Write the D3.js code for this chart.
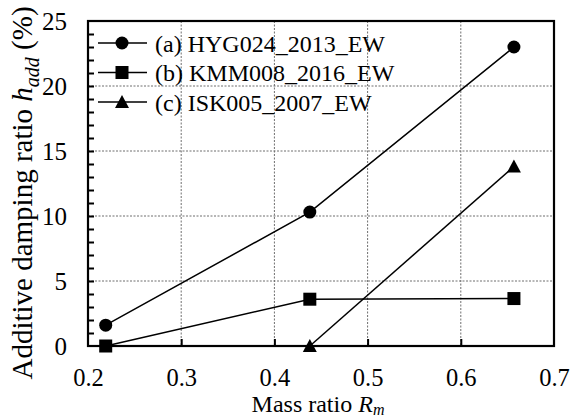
<!DOCTYPE html>
<html>
<head>
<meta charset="utf-8">
<script src="https://cdn.jsdelivr.net/npm/d3@7"></script>
<style>
  html, body { margin: 0; padding: 0; background: #fff; }
  svg { display: block; }
  svg text { font-family: 'Liberation Serif', 'Times New Roman', 'DejaVu Serif', serif; }
</style>
</head>
<body>
<svg id="chart" width="571" height="420"></svg>
<script>
// Mass ratio values used by each record
const massA = [0.219, 0.438, 0.657];
const massB = [0.219, 0.438, 0.657];
const massC = [0.438, 0.657];
// Additive damping ratio (%) for each record
const dampA = [1.6, 10.3, 23.0];
const dampB = [0.0, 3.6, 3.65];
const dampC = [0.0, 13.8];
const seriesNames = ["(a) HYG024_2013_EW", "(b) KMM008_2016_EW", "(c) ISK005_2007_EW"];
const seriesMarkers = ["circle", "square", "triangle"];
const xTicks = [0.2, 0.3, 0.4, 0.5, 0.6, 0.7];
const yTicks = [0, 5, 10, 15, 20, 25];

const serif = "'Liberation Serif', 'Times New Roman', 'DejaVu Serif', serif";
const svg = d3.select("#chart");
const plotLeft = 88, plotRight = 554, plotTop = 21, plotBottom = 346;

const x = d3.scaleLinear().domain([0.2, 0.7]).range([plotLeft, plotRight]);
const y = d3.scaleLinear().domain([0, 25]).range([plotBottom, plotTop]);

// dotted grid
const grid = svg.append("g").attr("stroke", "#6e6e6e").attr("stroke-width", 1)
  .attr("stroke-dasharray", "2,1.5");
grid.selectAll("line.vx").data(xTicks.slice(1, -1)).join("line")
  .attr("x1", d => x(d)).attr("x2", d => x(d))
  .attr("y1", plotTop).attr("y2", plotBottom);
grid.selectAll("line.hy").data(yTicks.slice(1, -1)).join("line")
  .attr("x1", plotLeft).attr("x2", plotRight)
  .attr("y1", d => y(d)).attr("y2", d => y(d));

// axes
const fmtX = d3.format(".1f");
const xAxis = d3.axisBottom(x).tickValues(xTicks).tickFormat(fmtX)
  .tickSizeInner(-7).tickSizeOuter(0).tickPadding(23);
const gx = svg.append("g").attr("transform", `translate(0,${plotBottom})`).call(xAxis);
gx.attr("font-family", null).attr("font-size", null);
gx.select(".domain").remove();
gx.selectAll(".tick line").attr("stroke", "#000").attr("stroke-width", 2)
  .filter(d => d === 0.2 || d === 0.7).remove();
gx.selectAll("text").style("font-size", "24.5px").style("font-family", serif).attr("fill", "#000");

const yMinor = d3.range(0, 26, 1);
const yAxis = d3.axisLeft(y).tickValues(yMinor)
  .tickFormat(d => (d % 5 === 0 ? d : ""))
  .tickSizeInner(-6).tickSizeOuter(0).tickPadding(21);
const gy = svg.append("g").attr("transform", `translate(${plotLeft},0)`).call(yAxis);
gy.attr("font-family", null).attr("font-size", null);
gy.select(".domain").remove();
gy.selectAll(".tick line").attr("stroke", "#000").attr("stroke-width", 2)
  .filter(d => d === 0 || d === 25).remove();
gy.selectAll("text").style("font-size", "25px").style("font-family", serif).attr("fill", "#000");

// frame
svg.append("rect").attr("x", plotLeft).attr("y", plotTop)
  .attr("width", plotRight - plotLeft).attr("height", plotBottom - plotTop)
  .attr("fill", "none").attr("stroke", "#000").attr("stroke-width", 2.2);

// marker drawing
function drawMarker(g, type, cx, cy) {
  if (type === "circle") {
    g.append("circle").attr("cx", cx).attr("cy", cy).attr("r", 6.5).attr("fill", "#000");
  } else if (type === "square") {
    g.append("rect").attr("x", cx - 6.5).attr("y", cy - 6.5)
      .attr("width", 13).attr("height", 13).attr("fill", "#000");
  } else {
    g.append("path").attr("d", `M${cx},${cy - 7}L${cx + 7},${cy + 6}L${cx - 7},${cy + 6}Z`)
      .attr("fill", "#000");
  }
}

const allSeries = [
  { xs: massA, ys: dampA },
  { xs: massB, ys: dampB },
  { xs: massC, ys: dampC }
];
const line = d3.line().x(d => x(d[0])).y(d => y(d[1]));
const plot = svg.append("g");
allSeries.forEach((s, i) => {
  const pts = s.xs.map((v, j) => [v, s.ys[j]]);
  plot.append("path").attr("d", line(pts)).attr("fill", "none")
    .attr("stroke", "#000").attr("stroke-width", 1.5);
  pts.forEach(p => drawMarker(plot, seriesMarkers[i], x(p[0]), y(p[1])));
});

// legend
const leg = svg.append("g");
seriesNames.forEach((name, i) => {
  const cy = 43 + i * 29.5;
  leg.append("line").attr("x1", 98).attr("x2", 147).attr("y1", cy).attr("y2", cy)
    .attr("stroke", "#000").attr("stroke-width", 1.5);
  drawMarker(leg, seriesMarkers[i], 122, cy);
  leg.append("text").attr("x", 155).attr("y", cy + 8.5)
    .style("font-size", "24px").style("font-family", serif).attr("fill", "#000").text(name);
});

// axis titles
const xt = svg.append("text").attr("x", 318).attr("y", 412)
  .attr("text-anchor", "middle").style("font-size", "24px").style("font-family", serif)
  .attr("fill", "#000");
xt.append("tspan").text("Mass ratio ");
xt.append("tspan").attr("font-style", "italic").text("R");
xt.append("tspan").attr("font-style", "italic").style("font-size", "16px").attr("dy", 3).text("m");

const yt = svg.append("text")
  .attr("transform", "translate(32,193) rotate(-90)")
  .attr("text-anchor", "middle").style("font-size", "29px").style("font-family", serif)
  .attr("fill", "#000");
yt.append("tspan").text("Additive damping ratio ");
yt.append("tspan").attr("font-style", "italic").text("h");
yt.append("tspan").attr("font-style", "italic").style("font-size", "20px").attr("dy", 7).text("add");
yt.append("tspan").attr("dy", -7).text(" (%)");
</script>
</body>
</html>
